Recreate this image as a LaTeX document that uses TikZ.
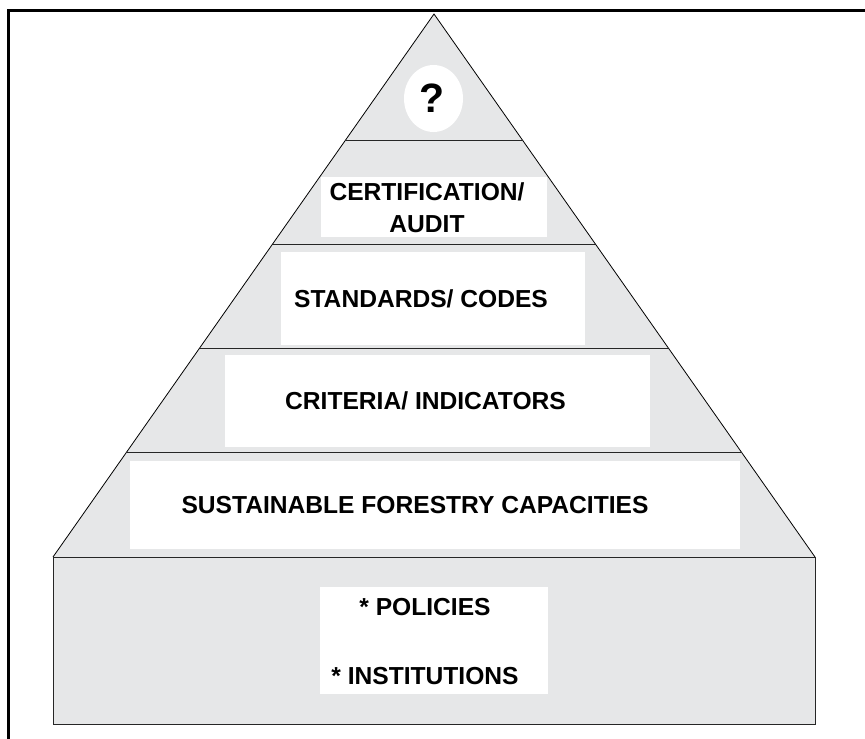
\documentclass[tikz,border=0pt]{standalone}
\usepackage{fontspec}
\setmainfont{Liberation Sans}
\usetikzlibrary{calc}
\definecolor{pyrgray}{HTML}{E6E7E8}
\tikzset{
  label/.style={font=\fontsize{24.6}{32}\selectfont\bfseries, inner sep=0pt, anchor=base, align=center},
  layer/.style={draw=black!85, line width=1pt}
}
\begin{document}
\begin{tikzpicture}[x=1pt,y=-1pt]
    \useasboundingbox (0,0) rectangle (865,739);
    % Rahmen
    \draw[line width=3pt] (8,745) -- (8,10) -- (870,10);

    \coordinate (top) at (434,14);
    \coordinate (bl) at (53,557);
    \coordinate (br) at (815,557);

    % Pyramide und Sockel
    \fill[pyrgray] (top) -- (br) -- (bl) -- cycle;
    \draw[black, line width=0.8pt] (bl) -- (top) -- (br);
    \filldraw[fill=pyrgray, draw=black!85, line width=1pt] (bl) rectangle (815,724);
    \foreach \y in {140,244,348,453}
        \draw[layer] ($(top)!{(\y-14)/543}!(bl)$) -- ($(top)!{(\y-14)/543}!(br)$);

    % weisse Felder
    \fill[white] (433.5,98.5) ellipse [x radius=29.5, y radius=33.5];
    \fill[white] (321,177) rectangle (547,237);
    \fill[white] (281,252) rectangle (585,345);
    \fill[white] (225,355) rectangle (650,447);
    \fill[white] (130,461) rectangle (740,549);
    \fill[white] (320,587) rectangle (548,694);

    % Texte
    \node[label, font=\fontsize{41}{44}\selectfont\bfseries] (quest) at (432,112) {?};
    \node[label] (cert) at (427,232) {CERTIFICATION/\\AUDIT};
    \node[label] (stand) at (421,307) {STANDARDS/ CODES};
    \node[label] (crit) at (425.5,409) {CRITERIA/ INDICATORS};
    \node[label] (sfc) at (415,513) {SUSTAINABLE FORESTRY CAPACITIES};
    \node[label, font=\fontsize{24.6}{69}\selectfont\bfseries] (pol) at (425,684) {* POLICIES\\* INSTITUTIONS};
\end{tikzpicture}
\end{document}
